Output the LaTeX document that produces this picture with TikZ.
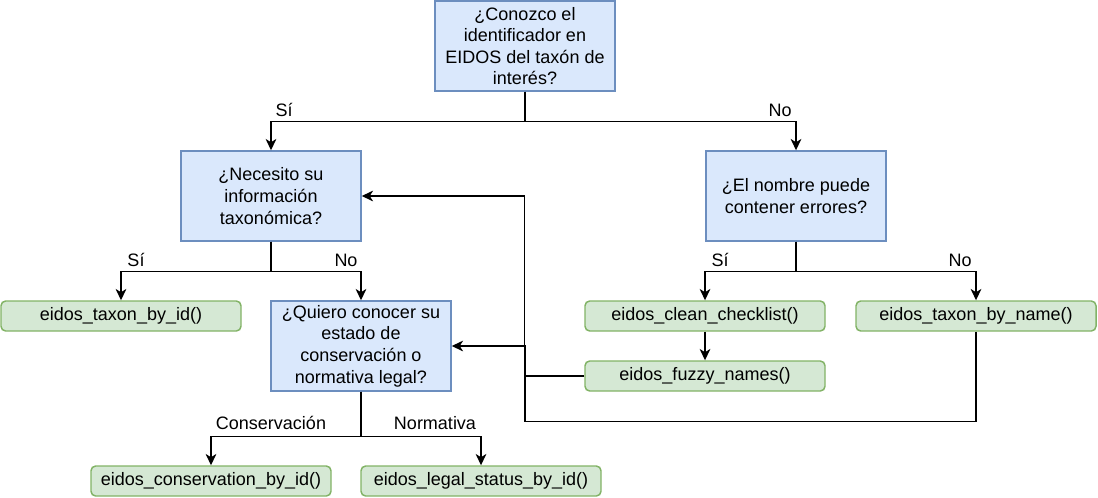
\documentclass[tikz,border=0pt]{standalone}
\usepackage{fontspec}
\setmainfont{Liberation Sans}
\usetikzlibrary{arrows.meta}
\definecolor{qfill}{HTML}{DAE8FC}
\definecolor{qline}{HTML}{6C8EBF}
\definecolor{ffill}{HTML}{D5E8D4}
\definecolor{fline}{HTML}{82B366}
\tikzset{
  txt/.style={font=\fontsize{13.5}{16.2}\selectfont},
  question/.style={txt, draw=qline, fill=qfill, line width=1.1pt, align=center,
    minimum width=135pt, minimum height=67.5pt, inner sep=0pt},
  func/.style={txt, draw=fline, fill=ffill, line width=1.1pt, rounded corners=3.5pt,
    minimum width=180pt, minimum height=22.5pt, inner sep=0pt},
  link/.style={line width=1.1pt, -{Stealth[length=8.5pt,width=8pt,inset=2.5pt]}},
  lbl/.style={txt, inner sep=0pt}
}
\begin{document}
\begin{tikzpicture}[x=0.75pt,y=-0.75pt]
    \useasboundingbox (0,0) rectangle (1098,497);

    % Questions
    \node[question] (conozco) at (525,46) {¿Conozco el\\identificador en\\EIDOS del taxón de\\interés?};
    \node[question] (necesito) at (271,196) {¿Necesito su\\información\\taxonómica?};
    \node[question] (nombre) at (796,196) {¿El nombre puede\\contener errores?};
    \node[question] (quiero) at (361,346) {¿Quiero conocer su\\estado de\\conservación o\\normativa legal?};

    % Functions
    \node[func] (byid) at (121,316) {eidos\_taxon\_by\_id()};
    \node[func] (clean) at (705,316) {eidos\_clean\_checklist()};
    \node[func] (byname) at (976,316) {eidos\_taxon\_by\_name()};
    \node[func] (fuzzy) at (705,376) {eidos\_fuzzy\_names()};
    \node[func] (conserv) at (211,481) {eidos\_conservation\_by\_id()};
    \node[func] (legal) at (481,481) {eidos\_legal\_status\_by\_id()};

    % Decisions
    \draw[link] (conozco.south) -- ++(0,30) -| (necesito.north);
    \draw[link] (conozco.south) -- ++(0,30) -| (nombre.north);
    \draw[link] (necesito.south) -- ++(0,30) -| (byid.north);
    \draw[link] (necesito.south) -- ++(0,30) -| (quiero.north);
    \draw[link] (nombre.south) -- ++(0,30) -| (clean.north);
    \draw[link] (nombre.south) -- ++(0,30) -| (byname.north);
    \draw[link] (clean.south) -- (fuzzy.north);
    \draw[link] (quiero.south) -- ++(0,45) -| (conserv.north);
    \draw[link] (quiero.south) -- ++(0,45) -| (legal.north);

    % Back to the questions
    \draw[link] (fuzzy.west) -- ++(-60,0) |- (necesito.east);
    \draw[link] (byname.south) -- ++(0,90) -- ++(-451,0) |- (quiero.east);

    % Answers
    \node[lbl] (si1) at (284,110) {Sí};
    \node[lbl] (no1) at (780,110) {No};
    \node[lbl] (si2) at (136,260) {Sí};
    \node[lbl] (no2) at (346,260) {No};
    \node[lbl] (si3) at (720,260) {Sí};
    \node[lbl] (no3) at (960,260) {No};
    \node[lbl] (cons) at (271,423) {Conservación};
    \node[lbl] (norm) at (435,423) {Normativa};
\end{tikzpicture}
\end{document}
